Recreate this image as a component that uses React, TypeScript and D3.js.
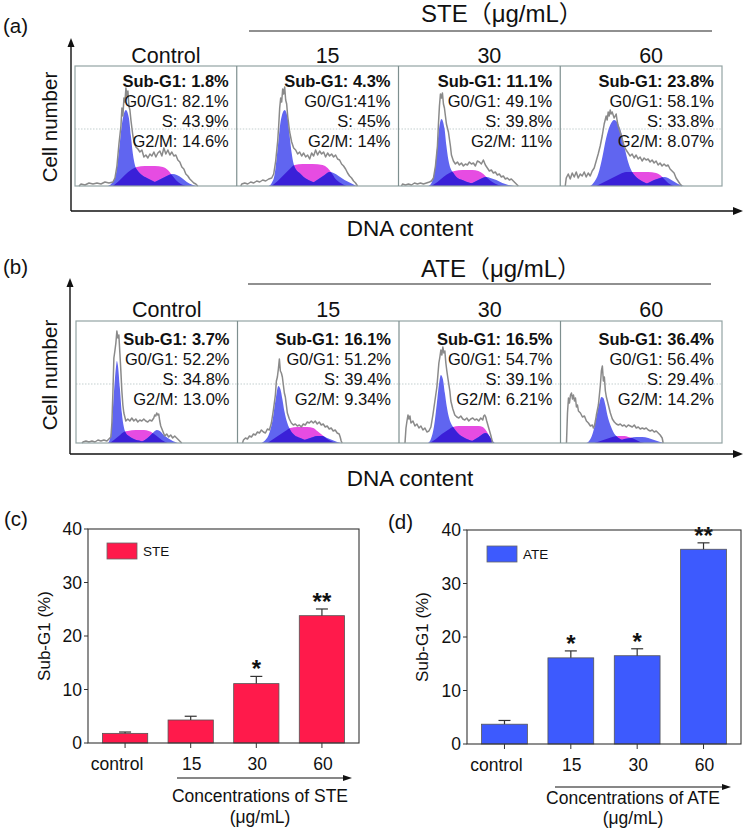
import React from 'react';
import * as d3 from 'd3';

type Pt = [number, number];

const FONT = '"Liberation Sans", Arial, "Noto Sans CJK SC", sans-serif';

// ---- flow cytometry panels (a) STE, (b) ATE ----
const flowDoses = ['Control', '15', '30', '60'];

const steSubText = ['Sub-G1: 1.8%', 'Sub-G1: 4.3%', 'Sub-G1: 11.1%', 'Sub-G1: 23.8%'];
const steG1Text = ['G0/G1: 82.1%', 'G0/G1:41%', 'G0/G1: 49.1%', 'G0/G1: 58.1%'];
const steSText = ['S: 43.9%', 'S: 45%', 'S: 39.8%', 'S: 33.8%'];
const steG2Text = ['G2/M: 14.6%', 'G2/M: 14%', 'G2/M: 11%', 'G2/M: 8.07%'];

const ateSubText = ['Sub-G1: 3.7%', 'Sub-G1: 16.1%', 'Sub-G1: 16.5%', 'Sub-G1: 36.4%'];
const ateG1Text = ['G0/G1: 52.2%', 'G0/G1: 51.2%', 'G0/G1: 54.7%', 'G0/G1: 56.4%'];
const ateSText = ['S: 34.8%', 'S: 39.4%', 'S: 39.1%', 'S: 29.4%'];
const ateG2Text = ['G2/M: 13.0%', 'G2/M: 9.34%', 'G2/M: 6.21%', 'G2/M: 14.2%'];

// histograms: [channel, count]
const steGray: Pt[][] = [
  [[4,0],[6,2],[10,1],[14,3],[18,2],[22,3],[26,2],[30,4],[34,3],[38,4],[40,8],[42,20],[44,42],[46,60],[47,78],[48,70],[49,88],[50,84],[51,98],[52,90],[53,95],[54,80],[55,76],[56,66],[57,58],[58,50],[59,45],[61,39],[63,37],[65,34],[67,36],[69,29],[71,31],[73,28],[75,32],[77,30],[79,34],[81,29],[83,33],[85,35],[87,30],[89,38],[91,32],[93,36],[95,31],[97,34],[99,30],[101,31],[103,26],[105,24],[107,19],[109,17],[111,12],[113,10],[115,7],[117,5],[119,3],[121,2],[123,0]],
  [[4,0],[5,2],[8,3],[11,2],[14,4],[17,3],[20,5],[23,4],[26,6],[29,5],[32,7],[35,8],[37,12],[39,25],[41,45],[42,60],[43,78],[44,88],[45,84],[46,97],[47,92],[48,99],[49,86],[50,82],[51,70],[52,62],[53,54],[55,44],[57,38],[59,36],[61,32],[63,34],[65,30],[67,33],[69,29],[71,31],[73,27],[75,33],[77,30],[79,36],[81,31],[83,35],[85,32],[87,34],[89,29],[91,33],[93,30],[95,32],[97,29],[99,31],[101,27],[103,26],[105,22],[107,20],[109,17],[111,13],[113,10],[115,8],[117,5],[119,3],[121,0]],
  [[3,0],[4,2],[7,1],[10,2],[13,1],[16,3],[19,2],[22,3],[25,2],[28,3],[31,4],[33,5],[35,8],[37,20],[39,40],[40,62],[41,80],[42,92],[43,88],[44,93],[45,82],[46,78],[47,70],[48,62],[50,54],[52,40],[53,31],[55,25],[57,22],[59,24],[61,21],[63,23],[65,20],[67,22],[69,21],[71,24],[73,22],[75,23],[77,20],[79,25],[81,24],[83,22],[85,26],[87,21],[89,18],[91,15],[93,16],[95,13],[97,14],[99,11],[101,12],[103,9],[105,10],[107,7],[109,8],[111,6],[113,7],[115,5],[117,3],[119,1],[120,0]],
  [[5,0],[6,8],[8,12],[10,7],[12,13],[14,9],[16,14],[18,8],[20,12],[22,10],[24,14],[26,9],[28,13],[30,10],[32,15],[34,18],[36,25],[38,32],[40,40],[42,50],[44,62],[46,70],[47,66],[48,74],[49,70],[50,76],[51,72],[52,74],[54,68],[56,72],[57,65],[58,60],[60,54],[62,47],[64,40],[66,36],[68,33],[70,30],[72,32],[74,28],[76,31],[78,27],[80,29],[82,25],[84,28],[86,26],[88,27],[90,24],[92,26],[94,23],[96,25],[98,21],[100,23],[102,20],[104,22],[106,20],[108,21],[110,17],[112,15],[114,13],[116,8],[118,5],[120,2],[122,0]],
];
const steG1Fit: Pt[][] = [
  [[33,0],[37,3],[41,12],[44,35],[47,62],[51,76],[54,68],[56,50],[58,32],[60,21],[63,15],[67,11],[72,8],[80,4],[88,1],[95,0]],
  [[32,0],[35,3],[38,12],[41,38],[44,65],[48,76],[51,68],[53,50],[55,33],[57,22],[59,17],[63,13],[67,9],[74,5],[82,2],[90,0]],
  [[30,0],[33,3],[36,14],[39,42],[41,60],[43,67],[46,58],[48,40],[50,26],[52,18],[55,13],[58,9],[64,6],[72,3],[80,1],[88,0]],
  [[30,0],[34,4],[38,12],[42,28],[46,48],[50,61],[54,66],[58,62],[62,50],[65,36],[68,24],[71,16],[75,10],[80,6],[88,2],[96,0]],
];
const steSFit: Pt[][] = [
  [[38,0],[44,5],[50,11],[56,16],[62,19],[70,20],[80,20],[88,19],[93,16],[97,11],[101,6],[106,2],[112,0]],
  [[35,0],[41,5],[47,11],[53,17],[58,21],[66,22],[76,22],[86,21],[91,18],[95,13],[99,7],[104,3],[110,0]],
  [[33,0],[39,4],[45,9],[51,13],[56,15],[64,16],[74,16],[80,15],[85,12],[89,8],[94,4],[100,1],[106,0]],
  [[36,0],[44,4],[52,8],[60,12],[66,14],[76,14],[88,14],[96,13],[100,11],[104,7],[108,3],[114,0]],
];
const steG2Fit: Pt[][] = [
  [[72,0],[78,3],[84,6],[90,9],[94,11],[98,12],[102,11],[107,8],[112,4],[118,1],[123,0]],
  [[70,0],[76,3],[82,7],[88,11],[93,14],[97,13],[102,10],[108,6],[114,3],[120,0]],
  [[66,0],[72,2],[78,5],[84,8],[88,9],[92,8],[98,6],[104,3],[110,1],[116,0]],
  [[82,0],[88,3],[94,6],[100,8],[104,9],[108,8],[113,5],[118,2],[124,0]],
];

const ateGray: Pt[][] = [
  [[6,0],[7,1],[10,2],[13,1],[16,2],[19,1],[22,3],[25,2],[28,3],[31,2],[33,4],[35,6],[36,20],[37,50],[38,85],[39,92],[40,100],[41,112],[42,105],[43,108],[44,90],[45,72],[46,52],[47,38],[48,30],[50,22],[52,24],[54,22],[56,25],[58,22],[60,24],[62,21],[64,23],[66,22],[68,24],[70,22],[72,21],[74,23],[76,22],[78,25],[79,28],[80,27],[81,30],[82,28],[83,29],[84,22],[85,17],[87,12],[89,7],[91,9],[93,6],[95,8],[97,5],[99,7],[101,5],[103,3],[105,1],[106,0]],
  [[5,0],[6,3],[8,5],[10,4],[12,7],[14,6],[16,9],[18,8],[20,11],[22,10],[24,13],[26,11],[28,10],[30,14],[32,13],[34,20],[36,33],[38,48],[39,62],[40,66],[41,74],[42,84],[43,72],[44,70],[45,66],[46,58],[47,50],[48,46],[50,30],[52,24],[54,20],[56,18],[58,19],[60,17],[62,18],[64,16],[66,19],[68,18],[70,21],[72,20],[74,22],[76,20],[78,22],[80,19],[82,21],[84,18],[86,19],[88,16],[90,17],[92,14],[94,15],[96,12],[98,13],[100,10],[102,9],[103,6],[104,2],[105,0]],
  [[6,0],[7,15],[8,22],[9,28],[10,24],[11,27],[12,20],[14,22],[16,17],[18,19],[20,15],[22,17],[24,13],[26,15],[28,11],[30,12],[32,16],[34,28],[36,42],[38,56],[39,68],[40,80],[41,86],[42,93],[43,88],[44,96],[45,90],[46,92],[47,80],[48,72],[49,65],[51,52],[52,42],[54,34],[56,28],[58,26],[60,25],[62,27],[64,24],[66,23],[68,25],[70,22],[72,24],[74,25],[76,23],[78,24],[80,22],[82,25],[84,23],[85,27],[86,28],[87,26],[88,22],[90,15],[92,8],[93,4],[94,0]],
  [[6,0],[7,30],[8,45],[9,40],[10,48],[11,50],[12,44],[13,48],[14,42],[15,45],[16,36],[17,38],[18,32],[20,30],[22,26],[24,27],[26,22],[28,20],[30,17],[32,18],[33,15],[34,17],[35,22],[36,28],[38,38],[39,48],[40,58],[41,72],[42,77],[43,62],[44,66],[45,52],[46,46],[48,38],[50,30],[52,24],[54,21],[56,19],[58,18],[60,19],[62,17],[64,18],[66,16],[68,18],[70,17],[72,16],[74,18],[76,15],[78,16],[80,14],[82,15],[84,14],[86,15],[88,13],[90,12],[92,13],[94,11],[96,12],[98,10],[100,8],[102,5],[103,0]],
];
const ateG1Fit: Pt[][] = [
  [[32,0],[34,4],[36,18],[38,50],[40,75],[41,82],[42,78],[44,55],[46,30],[48,16],[50,10],[53,7],[58,4],[65,2],[72,0]],
  [[24,0],[28,3],[32,10],[35,22],[38,42],[41,57],[43,54],[45,44],[47,32],[50,20],[53,13],[57,8],[63,5],[70,2],[78,0]],
  [[29,0],[32,4],[35,16],[38,40],[40,58],[42,68],[44,64],[46,50],[48,36],[50,26],[52,20],[55,15],[59,10],[66,5],[74,2],[82,0]],
  [[26,0],[30,4],[33,12],[36,26],[39,40],[41,46],[43,45],[45,38],[47,28],[50,18],[53,11],[57,6],[62,3],[70,1],[76,0]],
];
const ateSFit: Pt[][] = [
  [[34,0],[38,3],[43,7],[48,11],[52,12],[60,13],[68,13],[73,12],[77,10],[81,7],[86,3],[92,0]],
  [[30,0],[36,4],[42,8],[48,12],[53,15],[60,16],[70,16],[76,15],[80,12],[85,8],[90,4],[96,1],[100,0]],
  [[31,0],[37,4],[43,9],[49,13],[54,16],[60,17],[70,17],[80,17],[84,16],[87,13],[90,8],[93,3],[95,0]],
  [[34,0],[40,2],[46,4],[52,6],[58,7],[64,7],[68,6],[72,5],[76,3],[80,1],[84,0]],
];
const ateG2Fit: Pt[][] = [
  [[64,0],[69,3],[74,7],[78,11],[81,13],[84,12],[88,8],[92,5],[97,2],[102,0]],
  [[58,0],[64,2],[70,4],[76,6],[80,7],[85,7],[90,5],[95,3],[100,1],[104,0]],
  [[70,0],[75,3],[80,6],[84,9],[87,10],[90,8],[92,5],[94,2],[96,0]],
  [[52,0],[58,2],[64,4],[70,5],[76,6],[82,6],[88,5],[94,3],[100,1],[104,0]],
];

// ---- bar charts (c), (d) ----
const barCats = ['control', '15', '30', '60'];
const steSubG1 = [1.8, 4.3, 11.1, 23.8];
const steSubG1Err = [0.25, 0.7, 1.35, 1.25];
const steStars = ['', '', '*', '**'];
const ateSubG1 = [3.7, 16.1, 16.5, 36.4];
const ateSubG1Err = [0.7, 1.3, 1.3, 1.2];
const ateStars = ['', '*', '*', '**'];
const yTicks = [0, 10, 20, 30, 40];

const LIGHT = '#6065f0';
const DARK = '#3a20d8';
const MAGENTA = '#e64ce2';

function FlowRow({ id, tag, title, L, texts, gray, g1, s, g2 }: any) {
  const band = d3.scaleBand<string>().domain(flowDoses).range([L.left, L.right]).padding(0);
  const y = d3.scaleLinear().domain([0, 120]).range([L.bottom, L.bottom - 120]);
  const bw = band.bandwidth();
  return (
    <g>
      <text x={3} y={L.tagY} fontSize={20.5}>{tag}</text>
      {/* axes */}
      <line x1={L.axisX} y1={L.xAxisY} x2={L.axisX} y2={L.yTip + 6} stroke="#111" strokeWidth={1.4} />
      <path d={`M${L.axisX},${L.yTip} l-3.5,9 l7,0 z`} fill="#111" />
      <line x1={L.axisX} y1={L.xAxisY} x2={L.xTip - 6} y2={L.xAxisY} stroke="#111" strokeWidth={1.4} />
      <path d={`M${L.xTip},${L.xAxisY} l-10,-4 l0,8 z`} fill="#111" />
      <text transform={`translate(${L.cellX},${L.cellY}) rotate(-90)`} textAnchor="middle" fontSize={20.5}>Cell number</text>
      <text x={410} y={L.dnaY} textAnchor="middle" fontSize={22.5}>DNA content</text>
      {/* group title */}
      <text x={421} y={L.titleY} fontSize={24}>{title}</text>
      <line x1={L.lineX0} x2={L.lineX1} y1={L.lineY} y2={L.lineY} stroke="#222" strokeWidth={1.2} />
      {flowDoses.map((d, i) => {
        const x0 = band(d)!;
        const x = d3.scaleLinear().domain([0, 162]).range([x0, x0 + bw]);
        const area = d3.area<Pt>().x(p => x(p[0])).y0(L.bottom).y1(p => y(p[1])).curve(d3.curveMonotoneX);
        const line = d3.line<Pt>().x(p => x(p[0])).y(p => y(p[1]));
        const sPath = area(s[i])!;
        const g1Path = area(g1[i])!;
        const g2Path = area(g2[i])!;
        const cid = `${id}-${i}`;
        return (
          <g key={d}>
            <defs>
              <clipPath id={`${cid}-s`}><path d={sPath} /></clipPath>
              <clipPath id={`${cid}-g1`}><path d={g1Path} /></clipPath>
            </defs>
            <line x1={x0} x2={x0 + bw} y1={L.top + 63} y2={L.top + 63} stroke="#c3cfcf" strokeDasharray="1.5,1.5" />
            <path d={sPath} fill={MAGENTA} />
            <path d={g1Path} fill={LIGHT} />
            <path d={g2Path} fill={LIGHT} />
            <path d={g1Path} fill={DARK} clipPath={`url(#${cid}-s)`} />
            <path d={g2Path} fill={DARK} clipPath={`url(#${cid}-s)`} />
            <path d={g2Path} fill={DARK} clipPath={`url(#${cid}-g1)`} />
            <path d={line(gray[i])!} fill="none" stroke="#8a8a8a" strokeWidth={1.5} strokeLinejoin="round" />
            <text x={x0 + bw / 2 + 10} y={L.top - L.headGap} textAnchor="middle" fontSize={21.5}>{d}</text>
            {texts.map((arr: string[], k: number) => (
              <text key={k} x={x0 + bw - 8} y={L.top + L.textDy + k * 20} textAnchor="end"
                fontSize={16.5} fontWeight={k === 0 ? 'bold' : 'normal'}>{arr[i]}</text>
            ))}
          </g>
        );
      })}
      <rect x={L.left} y={L.top} width={L.right - L.left} height={L.bottom - L.top} fill="none" stroke="#93a4a4" strokeWidth={1.2} />
      {flowDoses.slice(1).map(d => (
        <line key={d} x1={band(d)} x2={band(d)} y1={L.top} y2={L.bottom} stroke="#7e8f8f" strokeWidth={1.2} />
      ))}
    </g>
  );
}

function BarPanel({ tag, F, values, errs, stars, color, legend, xTitle }: any) {
  const x = d3.scaleBand<string>().domain(barCats).range([F.x0, F.x1]).paddingInner(0.31).paddingOuter(0.22);
  const y = d3.scaleLinear().domain([0, 40]).range([F.bottom, F.top]);
  return (
    <g>
      <text x={F.tagX} y={F.tagY} fontSize={20.5}>{tag}</text>
      {yTicks.map(t => (
        <g key={t}>
          <line x1={F.x0 - 4} x2={F.x0} y1={y(t)} y2={y(t)} stroke="#333" />
          <text x={F.x0 - 6} y={y(t) + 6} textAnchor="end" fontSize={17.5}>{t}</text>
        </g>
      ))}
      <text transform={`translate(${F.ylabX},${(F.top + F.bottom) / 2}) rotate(-90)`} textAnchor="middle" fontSize={17}>Sub-G1 (%)</text>
      {barCats.map((c, i) => {
        const cx = x(c)! + x.bandwidth() / 2;
        const top = y(values[i]);
        const et = y(values[i] + errs[i]);
        return (
          <g key={c}>
            <rect x={x(c)} y={top} width={x.bandwidth()} height={F.bottom - top} fill={color} stroke="#555" strokeWidth={0.8} />
            <line x1={cx} x2={cx} y1={top} y2={et} stroke="#333" strokeWidth={1.2} />
            <line x1={cx - 6} x2={cx + 6} y1={et} y2={et} stroke="#333" strokeWidth={1.2} />
            <line x1={cx} x2={cx} y1={F.bottom} y2={F.bottom + 5} stroke="#333" />
            {stars[i] && (
              <text x={cx} y={et + 1} textAnchor="middle" fontSize={24} fontWeight="bold">{stars[i]}</text>
            )}
            <text x={cx + (i === 0 ? -8 : 1)} y={F.labY} textAnchor="middle" fontSize={17.5}>{c}</text>
          </g>
        );
      })}
      <rect x={F.x0} y={F.top} width={F.x1 - F.x0} height={F.bottom - F.top} fill="none" stroke="#333" strokeWidth={1.1} />
      <rect x={F.legX} y={F.legY} width={30} height={16} fill={color} stroke="#666" strokeWidth={0.8} />
      <text x={F.legX + 36} y={F.legY + 13} fontSize={13.5}>{legend}</text>
      <line x1={F.arX0} x2={F.arX1 - 6} y1={F.arY} y2={F.arY} stroke="#111" strokeWidth={1.2} />
      <path d={`M${F.arX1},${F.arY} l-9,-3 l0,6 z`} fill="#111" />
      <text x={F.titleX} y={F.titleY} textAnchor="middle" fontSize={17.5}>{xTitle}</text>
      <text x={F.titleX} y={F.unitY} textAnchor="middle" fontSize={17.5}>(μg/mL)</text>
    </g>
  );
}

export default function App() {
  const rowA = {
    left: 75, right: 722, top: 66, bottom: 186, tagY: 33, axisX: 71, yTip: 38, xAxisY: 211, xTip: 743,
    cellX: 57, cellY: 127, dnaY: 236, titleY: 22, lineY: 31, lineX0: 249, lineX1: 712, headGap: 3, textDy: 21,
  };
  const rowB = {
    left: 76, right: 722, top: 321, bottom: 443, tagY: 274, axisX: 70, yTip: 278, xAxisY: 454, xTip: 743,
    cellX: 57, cellY: 375, dnaY: 486, titleY: 277, lineY: 284, lineX0: 248, lineX1: 711, headGap: 4, textDy: 24,
  };
  const fc = {
    x0: 88, x1: 359, top: 529, bottom: 743, tagX: 4, tagY: 526, ylabX: 50, labY: 770,
    legX: 107, legY: 543, arX0: 177, arX1: 352, arY: 778, titleX: 260, titleY: 802, unitY: 823,
  };
  const fd = {
    x0: 467, x1: 741, top: 530, bottom: 744, tagX: 388, tagY: 529, ylabX: 428, labY: 771,
    legX: 487, legY: 546, arX0: 555, arX1: 731, arY: 787, titleX: 633, titleY: 804, unitY: 824,
  };
  return (
    <svg width={746} height={830} style={{ position: 'absolute', left: 0, top: 0, background: '#fff' }}
      fontFamily={FONT} fill="#111">
      <FlowRow id="ste" tag="(a)" title="STE（μg/mL）" L={rowA}
        texts={[steSubText, steG1Text, steSText, steG2Text]}
        gray={steGray} g1={steG1Fit} s={steSFit} g2={steG2Fit} />
      <FlowRow id="ate" tag="(b)" title="ATE（μg/mL）" L={rowB}
        texts={[ateSubText, ateG1Text, ateSText, ateG2Text]}
        gray={ateGray} g1={ateG1Fit} s={ateSFit} g2={ateG2Fit} />
      <BarPanel tag="(c)" F={fc} values={steSubG1} errs={steSubG1Err} stars={steStars}
        color="#ff1a4b" legend="STE" xTitle="Concentrations of STE" />
      <BarPanel tag="(d)" F={fd} values={ateSubG1} errs={ateSubG1Err} stars={ateStars}
        color="#3d5afe" legend="ATE" xTitle="Concentrations of ATE" />
    </svg>
  );
}
